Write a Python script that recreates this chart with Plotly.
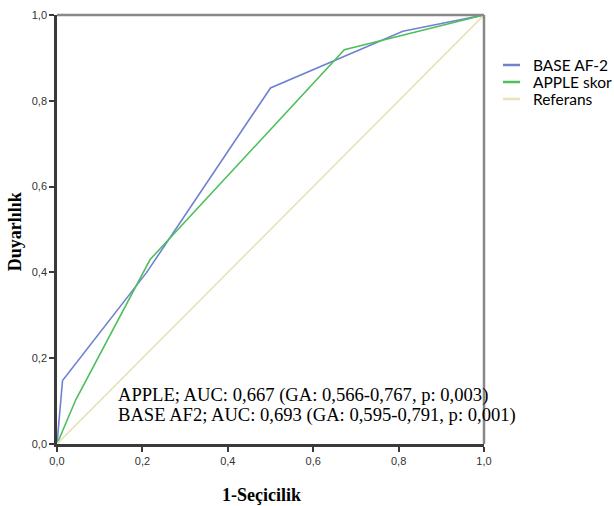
import plotly.graph_objects as go

# ROC curve data (1-Specificity, Sensitivity)
base_x = [0.0, 0.013, 0.21, 0.50, 0.81, 1.0]
base_y = [0.0, 0.148, 0.40, 0.83, 0.962, 1.0]

apple_x = [0.0, 0.044, 0.218, 0.673, 1.0]
apple_y = [0.0, 0.103, 0.43, 0.919, 1.0]

ref_x = [0.0, 1.0]
ref_y = [0.0, 1.0]

series_names = ["BASE AF-2", "APPLE skor", "Referans"]
series_colors = ["#6f82d2", "#4fbf5c", "#e9e2b8"]

tick_vals = [0.0, 0.2, 0.4, 0.6, 0.8, 1.0]

annot_lines = [
    "APPLE; AUC: 0,667 (GA: 0,566-0,767, p: 0,003)",
    "BASE AF2; AUC: 0,693 (GA: 0,595-0,791, p: 0,001)",
]

x_title = "1-Seçicilik"
y_title = "Duyarlılık"

fig = go.Figure()
for xs, ys, name, col in zip([base_x, apple_x, ref_x], [base_y, apple_y, ref_y],
                             series_names, series_colors):
    fig.add_trace(go.Scatter(x=xs, y=ys, mode="lines", name=name,
                             line=dict(color=col, width=1.6), showlegend=False))

axis_common = dict(
    range=[0, 1], tickvals=tick_vals, tickformat=".1f",
    showline=True, linecolor="#3a3a3a", linewidth=2.5,
    ticks="outside", ticklen=5, tickwidth=2, tickcolor="#3a3a3a",
    showgrid=False, zeroline=False, automargin=False,
    tickfont=dict(family="Liberation Sans, Arial", size=11, color="#333"),
)
fig.update_xaxes(**axis_common)
fig.update_yaxes(**axis_common)

# top and right border
fig.add_shape(type="line", xref="paper", yref="paper", x0=0, x1=1, y0=1, y1=1,
              line=dict(color="#888888", width=2.5))
fig.add_shape(type="line", xref="paper", yref="paper", x0=1, x1=1, y0=0, y1=1,
              line=dict(color="#888888", width=2.5))

# axis titles
title_font = dict(family="Liberation Serif, Times New Roman", size=18, color="black")
fig.add_annotation(x=0.48, y=-0.118, xref="paper", yref="paper", text="<b>%s</b>" % x_title,
                   showarrow=False, xanchor="center", yanchor="middle", font=title_font)
fig.add_annotation(x=-0.098, y=0.494, xref="paper", yref="paper", text="<b>%s</b>" % y_title,
                   showarrow=False, xanchor="center", yanchor="middle", textangle=-90,
                   font=title_font)

# AUC text
for i, txt in enumerate(annot_lines):
    fig.add_annotation(x=0.138, y=0.114 - i * 0.047, xref="x", yref="y", text=txt,
                       showarrow=False, xanchor="left", yanchor="middle",
                       font=dict(family="Liberation Serif, Times New Roman", size=18.6, color="black"))

# manual legend
leg_y_px = [65, 82, 99]
plot_top, plot_h = 15, 429
for name, col, ypx in zip(series_names, series_colors, leg_y_px):
    yp = 1 - (ypx - plot_top) / plot_h
    fig.add_shape(type="line", xref="paper", yref="paper",
                  x0=(503 - 57) / 427, x1=(520 - 57) / 427, y0=yp, y1=yp,
                  line=dict(color=col, width=2.5))
    fig.add_annotation(x=(531 - 57) / 427, y=yp, xref="paper", yref="paper", text=name,
                       showarrow=False, xanchor="left", yanchor="middle",
                       font=dict(family="Lato, Open Sans", size=15.5, color="black"))

fig.update_layout(
    width=614, height=506,
    margin=dict(l=57, r=130, t=15, b=62),
    plot_bgcolor="white", paper_bgcolor="white",
    separators=",.",
    showlegend=False,
)

fig.write_html("out.html", config={"displayModeBar": False},
               post_script="document.body.style.margin='0';document.body.style.overflow='hidden';")
